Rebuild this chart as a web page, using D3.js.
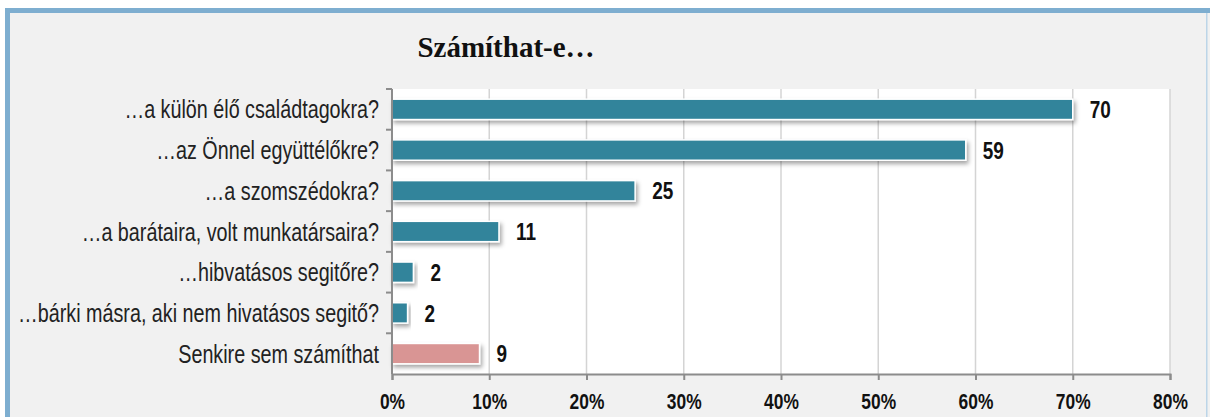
<!DOCTYPE html>
<html>
<head>
<meta charset="utf-8">
<script src="https://cdn.jsdelivr.net/npm/d3@7"></script>
<style>
    html, body { margin: 0; padding: 0; background: #fff; }
    svg { display: block; }
    .narrow { font-family: "Liberation Sans", Arial, sans-serif; }
</style>
</head>
<body>
<div id="chart"></div>
<script>
(function() {
    'use strict';

    // Data (percent of respondents)
    const categories = [
        '…a külön élő családtagokra?',
        '…az Önnel együttélőkre?',
        '…a szomszédokra?',
        '…a barátaira, volt munkatársaira?',
        '…hibvatásos segitőre?',
        '…bárki másra, aki nem hivatásos segitő?',
        'Senkire sem számíthat'
    ];
    const values = [70, 59, 25, 11, 2.2, 1.6, 9];
    const barColors = ['#31849b', '#31849b', '#31849b', '#31849b', '#31849b', '#31849b', '#d99594'];
    const xTicks = [0, 10, 20, 30, 40, 50, 60, 70, 80];
    const title = 'Számíthat-e…';

    const width = 1210;
    const height = 417;
    const plot = { left: 392, right: 1170, top: 89, bottom: 374 };
    const squeeze = 0.79; // narrow-font look

    const svg = d3.select('#chart')
        .append('svg')
        .attr('width', width)
        .attr('height', height);

    const defs = svg.append('defs');
    defs.append('filter')
        .attr('id', 'shadow')
        .attr('x', '-10%').attr('y', '-40%')
        .attr('width', '130%').attr('height', '200%')
        .append('feDropShadow')
        .attr('dx', 2).attr('dy', 3)
        .attr('stdDeviation', 2)
        .attr('flood-color', '#000')
        .attr('flood-opacity', 0.35);

    // Frame
    svg.append('rect')
        .attr('x', 5).attr('y', 8)
        .attr('width', width - 5).attr('height', height - 8)
        .attr('fill', '#f1f1f1');
    svg.append('rect')
        .attr('x', 5).attr('y', 8)
        .attr('width', width - 5).attr('height', 5)
        .attr('fill', '#7eaed0');
    svg.append('rect')
        .attr('x', 5).attr('y', 8)
        .attr('width', 5).attr('height', height - 8)
        .attr('fill', '#7eaed0');
    svg.append('rect')
        .attr('x', 1206).attr('y', 13)
        .attr('width', 1.5).attr('height', height - 13)
        .attr('fill', '#bcd5e8');

    // Title
    svg.append('text')
        .attr('x', 506).attr('y', 57)
        .attr('text-anchor', 'middle')
        .attr('font-family', '"Liberation Serif", "Times New Roman", serif')
        .attr('font-weight', 'bold')
        .attr('font-size', 29)
        .attr('fill', '#111')
        .text(title);

    const x = d3.scaleLinear()
        .domain([0, 80])
        .range([plot.left, plot.right]);

    const y = d3.scaleBand()
        .domain(categories)
        .range([plot.top, plot.bottom])
        .paddingInner(0.5)
        .paddingOuter(0.25);

    // Plot area
    svg.append('rect')
        .attr('x', plot.left).attr('y', plot.top)
        .attr('width', plot.right - plot.left)
        .attr('height', plot.bottom - plot.top)
        .attr('fill', '#fff');

    // Gridlines
    svg.append('g')
        .selectAll('line')
        .data(xTicks.slice(1))
        .join('line')
        .attr('x1', d => x(d)).attr('x2', d => x(d))
        .attr('y1', plot.top).attr('y2', plot.bottom)
        .attr('stroke', '#d4d4d4')
        .attr('stroke-width', 1.5);

    // Bars
    svg.append('g')
        .selectAll('rect')
        .data(values)
        .join('rect')
        .attr('x', x(0))
        .attr('y', (d, i) => y(categories[i]))
        .attr('width', d => x(d) - x(0))
        .attr('height', y.bandwidth())
        .attr('fill', (d, i) => barColors[i])
        .attr('stroke', '#fff')
        .attr('stroke-width', 1.5)
        .attr('filter', 'url(#shadow)');

    // Value labels
    const fmt = d3.format('.0f');
    svg.append('g')
        .selectAll('text')
        .data(values)
        .join('text')
        .attr('class', 'narrow')
        .attr('transform', (d, i) =>
            `translate(${x(d) + 17},${y(categories[i]) + y.bandwidth() / 2}) scale(${squeeze},1)`)
        .attr('dy', '0.36em')
        .attr('font-size', 24)
        .attr('font-weight', 'bold')
        .attr('fill', '#111')
        .text(d => fmt(d));

    // Bottom axis
    const xAxis = svg.append('g')
        .attr('transform', `translate(0,${plot.bottom})`)
        .call(d3.axisBottom(x).tickValues(xTicks).tickSize(6).tickPadding(13).tickFormat(d => d + '%'));
    xAxis.select('.domain').attr('stroke', '#8c8c8c').attr('stroke-width', 2);
    xAxis.selectAll('.tick line').attr('stroke', '#8c8c8c').attr('stroke-width', 2);
    xAxis.selectAll('.tick text')
        .attr('class', 'narrow')
        .attr('transform', `scale(${squeeze},1)`)
        .attr('font-size', 22)
        .attr('font-weight', 'bold')
        .attr('fill', '#111');

    // Left axis: line plus ticks on band boundaries
    const left = svg.append('g');
    left.append('line')
        .attr('x1', plot.left).attr('x2', plot.left)
        .attr('y1', plot.top).attr('y2', plot.bottom)
        .attr('stroke', '#8c8c8c').attr('stroke-width', 2);
    const boundaries = categories.map(c => y(c) - y.step() * y.paddingInner() / 2);
    left.selectAll('line.tk')
        .data(boundaries)
        .join('line')
        .attr('class', 'tk')
        .attr('x1', plot.left - 6).attr('x2', plot.left)
        .attr('y1', d => d).attr('y2', d => d)
        .attr('stroke', '#8c8c8c').attr('stroke-width', 2);

    left.selectAll('text')
        .data(categories)
        .join('text')
        .attr('class', 'narrow')
        .attr('transform', d =>
            `translate(${plot.left - 13},${y(d) + y.bandwidth() / 2}) scale(${squeeze},1)`)
        .attr('dy', '0.36em')
        .attr('text-anchor', 'end')
        .attr('font-size', 25)
        .attr('fill', '#222')
        .text(d => d);
})();
</script>
</body>
</html>
